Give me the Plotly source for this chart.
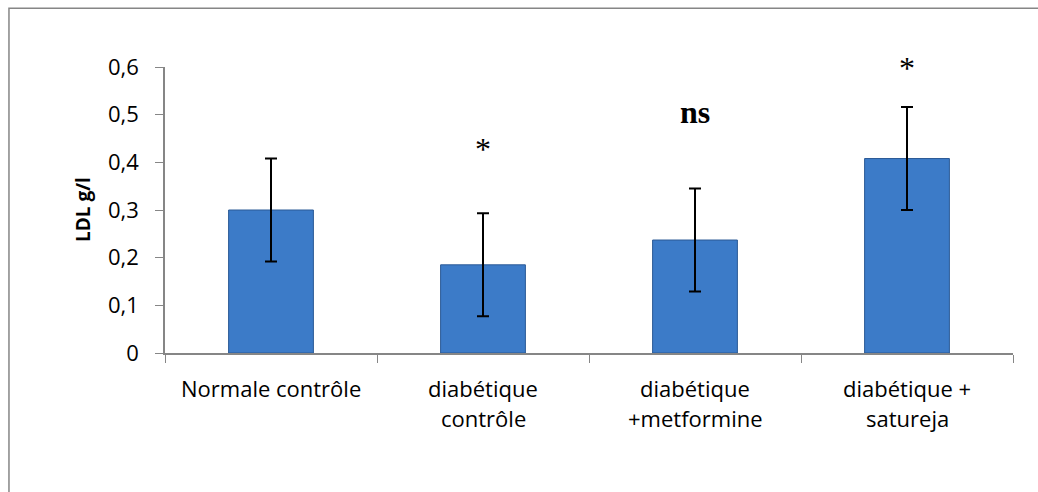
import plotly.graph_objects as go

# LDL cholesterol by group (g/l), mean with error
categories = ["Normale contrôle", "diabétique\ncontrôle", "diabétique\n+metformine", "diabétique +\nsatureja"]
ldl_values = [0.300, 0.185, 0.237, 0.408]
ldl_errors = [0.108, 0.108, 0.108, 0.108]

# significance marks above the groups (value-axis height of each label)
sig_labels = ["", "*", "ns", "*"]
sig_heights = [None, 0.428, 0.505, 0.597]

tick_vals = [0, 0.1, 0.2, 0.3, 0.4, 0.5, 0.6]
y_max = 0.6

axis_grey = "#868686"
font_main = "Open Sans, Carlito, Calibri, sans-serif"

fig = go.Figure()
fig.add_trace(go.Bar(
    x=list(range(len(categories))),
    y=ldl_values,
    marker=dict(color="#3c7bc8", line=dict(color="#2b5a96", width=1)),
    error_y=dict(type="data", array=ldl_errors, visible=True,
                 color="black", thickness=2, width=6),
    width=0.4,
    showlegend=False,
))

annotations = []
# category labels, one annotation per text line
for i, lab in enumerate(categories):
    for j, line in enumerate(lab.split("\n")):
        annotations.append(dict(
            x=i, y=0, xref="x", yref="paper", text=line, showarrow=False,
            xanchor="center", yanchor="middle", yshift=-35 - 30 * j,
            font=dict(family=font_main, size=22, color="black"),
        ))

# significance labels (paper units so labels above the top tick still show)
for i, (lab, h) in enumerate(zip(sig_labels, sig_heights)):
    if not lab:
        continue
    bold = lab != "*"
    annotations.append(dict(
        x=i, y=h / y_max, xref="x", yref="paper",
        text=f"<b>{lab}</b>" if bold else lab, showarrow=False,
        xanchor="center", yanchor="middle",
        font=dict(family="Liberation Serif, Times New Roman, serif",
                  size=32, color="black"),
    ))

# y-axis title
annotations.append(dict(
    x=0, y=0.5, xref="paper", yref="paper", text="<b>LDL g/l</b>",
    showarrow=False, textangle=-90, xanchor="center", yanchor="middle",
    xshift=-82, font=dict(family=font_main, size=19, color="black"),
))

fig.update_layout(
    width=1038, height=492,
    margin=dict(l=165, r=25, t=67, b=139),
    paper_bgcolor="white", plot_bgcolor="white",
    separators=",.",
    bargap=0.6,
    annotations=annotations,
    xaxis=dict(
        range=[-0.5, len(categories) - 0.5],
        showticklabels=False,
        tickmode="array", tickvals=[k - 0.5 for k in range(len(categories) + 1)],
        ticks="outside", ticklen=8, tickcolor=axis_grey, tickwidth=1,
        showline=True, linecolor=axis_grey, linewidth=1.5,
        showgrid=False, zeroline=False,
    ),
    yaxis=dict(
        range=[0, y_max], tickvals=tick_vals, tickformat=".1~f",
        ticks="outside", ticklen=8, tickcolor=axis_grey, tickwidth=1,
        showline=True, linecolor=axis_grey, linewidth=1.5,
        showgrid=False, zeroline=False, ticklabelstandoff=12,
        tickfont=dict(family=font_main, size=22, color="black"),
    ),
    shapes=[dict(
        type="rect", xref="paper", yref="paper",
        x0=-0.184, x1=1.2, y0=-0.7, y1=1.205,
        line=dict(color=axis_grey, width=1.5), fillcolor="rgba(0,0,0,0)",
        layer="below",
    )],
)

fig.write_html("out.html")
